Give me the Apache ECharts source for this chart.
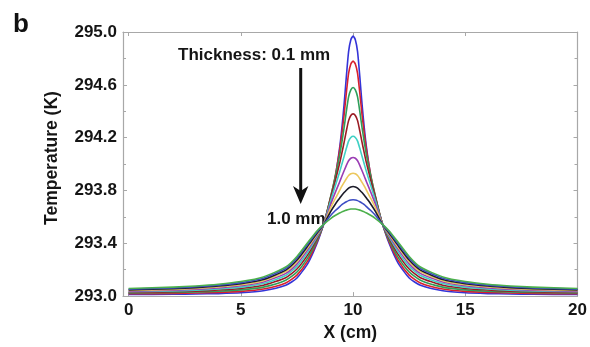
<!DOCTYPE html>
<html>
<head>
<meta charset="utf-8">
<script src="https://cdn.jsdelivr.net/npm/echarts@6/dist/echarts.min.js"></script>
<style>
html,body{margin:0;padding:0;background:#fff;}
#chart{width:590px;height:347px;}
</style>
</head>
<body>
<div id="chart"></div>
<script>
// Position along the strip (cm)
var xPositions = [0, 2, 3, 4, 5, 6, 7, 7.5, 8, 8.4, 8.7, 9, 9.2, 9.4, 9.5, 9.6, 9.7, 9.8, 9.9, 10, 10.1, 10.2, 10.3, 10.4, 10.5, 10.6, 10.8, 11, 11.3, 11.6, 12, 12.5, 13, 14, 15, 16, 17, 18, 20];

// Temperature (K) for each thickness
var temp01 = [293.013,293.014,293.016,293.019,293.025,293.040,293.082,293.137,293.252,293.402,293.552,293.732,293.892,294.122,294.272,294.452,294.662,294.852,294.942,294.970,294.942,294.852,294.662,294.452,294.272,294.122,293.892,293.732,293.552,293.402,293.252,293.137,293.082,293.040,293.025,293.019,293.016,293.014,293.013];
var temp02 = [293.018,293.020,293.023,293.028,293.036,293.054,293.100,293.159,293.273,293.414,293.551,293.749,293.904,294.103,294.228,294.373,294.538,294.687,294.758,294.780,294.758,294.687,294.538,294.373,294.228,294.103,293.904,293.749,293.551,293.414,293.273,293.159,293.100,293.054,293.036,293.028,293.023,293.020,293.018];
var temp03 = [293.023,293.027,293.031,293.037,293.047,293.068,293.120,293.182,293.295,293.426,293.550,293.753,293.896,294.064,294.165,294.275,294.399,294.509,294.562,294.580,294.562,294.509,294.399,294.275,294.165,294.064,293.896,293.753,293.550,293.426,293.295,293.182,293.120,293.068,293.047,293.037,293.031,293.027,293.023];
var temp04 = [293.028,293.033,293.038,293.046,293.058,293.082,293.139,293.205,293.318,293.439,293.549,293.743,293.869,294.005,294.083,294.164,294.251,294.329,294.368,294.380,294.368,294.329,294.251,294.164,294.083,294.005,293.869,293.743,293.549,293.439,293.318,293.205,293.139,293.082,293.058,293.046,293.038,293.033,293.028];
var temp05 = [293.033,293.039,293.045,293.054,293.068,293.095,293.156,293.225,293.337,293.450,293.548,293.723,293.831,293.939,293.999,294.058,294.119,294.174,294.201,294.210,294.201,294.174,294.119,294.058,293.999,293.939,293.831,293.723,293.548,293.450,293.337,293.225,293.156,293.095,293.068,293.054,293.045,293.039,293.033];
var temp06 = [293.038,293.045,293.052,293.062,293.078,293.107,293.172,293.244,293.356,293.460,293.547,293.694,293.782,293.864,293.908,293.949,293.990,294.025,294.044,294.050,294.044,294.025,293.990,293.949,293.908,293.864,293.782,293.694,293.547,293.460,293.356,293.244,293.172,293.107,293.078,293.062,293.052,293.045,293.038];
var temp07 = [293.043,293.051,293.058,293.069,293.086,293.117,293.185,293.260,293.371,293.469,293.546,293.667,293.736,293.800,293.832,293.861,293.889,293.913,293.926,293.930,293.926,293.913,293.889,293.861,293.832,293.800,293.736,293.667,293.546,293.469,293.371,293.260,293.185,293.117,293.086,293.069,293.058,293.051,293.043];
var temp08 = [293.047,293.056,293.064,293.076,293.094,293.126,293.197,293.273,293.384,293.478,293.545,293.640,293.694,293.741,293.764,293.784,293.802,293.818,293.827,293.830,293.827,293.818,293.802,293.784,293.764,293.741,293.694,293.640,293.545,293.478,293.384,293.273,293.197,293.126,293.094,293.076,293.064,293.056,293.047];
var temp09 = [293.053,293.062,293.071,293.083,293.102,293.136,293.209,293.288,293.398,293.487,293.545,293.610,293.646,293.677,293.692,293.704,293.714,293.723,293.728,293.730,293.728,293.723,293.714,293.704,293.692,293.677,293.646,293.610,293.545,293.487,293.398,293.288,293.209,293.136,293.102,293.083,293.071,293.062,293.053];
var temp10 = [293.058,293.068,293.077,293.090,293.110,293.145,293.220,293.300,293.410,293.495,293.545,293.587,293.610,293.629,293.638,293.645,293.651,293.656,293.659,293.660,293.659,293.656,293.651,293.645,293.638,293.629,293.610,293.587,293.545,293.495,293.410,293.300,293.220,293.145,293.110,293.090,293.077,293.068,293.058];

var thicknessNames = ['0.1 mm','0.2 mm','0.3 mm','0.4 mm','0.5 mm','0.6 mm','0.7 mm','0.8 mm','0.9 mm','1.0 mm'];
var seriesColors = ['#3434d8','#d8202e','#2e9e5a','#9a1c24','#3fd0c4','#9a3cb4','#ecc85e','#1c1c2a','#3c4cc4','#4cb04c'];
var xTickValues = [0, 5, 10, 15, 20];

var allTemps = [temp01,temp02,temp03,temp04,temp05,temp06,temp07,temp08,temp09,temp10];
var FONT = '"Liberation Sans", Arial, sans-serif';

var series = allTemps.map(function (arr, i) {
  return {
    name: thicknessNames[i],
    type: 'line',
    data: arr.map(function (v, k) { return [xPositions[k], v]; }),
    showSymbol: false,
    smooth: 0.2,
    lineStyle: { width: 1.6, color: seriesColors[i], join: 'round' },
    itemStyle: { color: seriesColors[i] },
    z: 2 + i,
    animation: false
  };
});

var axisGray = '#a8a8a8';
var labelStyle = { color: '#151515', fontSize: 17, fontWeight: 'bold', fontFamily: FONT };

var chart = echarts.init(document.getElementById('chart'), null, { renderer: 'canvas' });
chart.setOption({
  animation: false,
  backgroundColor: '#ffffff',
  grid: { left: 123, top: 32, right: 7.5, bottom: 50.5, containLabel: false },
  xAxis: [{
    type: 'value', min: -0.25, max: 20, position: 'bottom',
    axisLine: { show: true, onZero: false, lineStyle: { color: axisGray, width: 1.2 } },
    axisTick: { show: true, inside: true, length: 4, customValues: xTickValues, lineStyle: { color: axisGray } },
    axisLabel: Object.assign({ customValues: xTickValues, margin: 6 }, labelStyle),
    splitLine: { show: false },
    name: 'X (cm)', nameLocation: 'middle', nameGap: 25,
    nameTextStyle: { color: '#151515', fontSize: 17.5, fontWeight: 'bold', fontFamily: FONT }
  }, {
    type: 'value', min: -0.25, max: 20, position: 'top',
    axisLine: { show: true, onZero: false, lineStyle: { color: axisGray, width: 1.2 } },
    axisTick: { show: true, inside: true, length: 4, customValues: xTickValues, lineStyle: { color: axisGray } },
    axisLabel: { show: false },
    splitLine: { show: false }
  }],
  yAxis: [{
    type: 'value', min: 293, max: 295, interval: 0.4, position: 'left',
    axisLine: { show: true, onZero: false, lineStyle: { color: axisGray, width: 1.2 } },
    axisTick: { show: true, inside: true, length: 4, lineStyle: { color: axisGray } },
    minorTick: { show: true, splitNumber: 2, length: 3, lineStyle: { color: axisGray } },
    axisLabel: Object.assign({ margin: 6, formatter: function (v) { return v.toFixed(1); } }, labelStyle),
    splitLine: { show: false },
    name: 'Temperature (K)', nameLocation: 'middle', nameGap: 62, nameRotate: 90,
    nameTextStyle: { color: '#151515', fontSize: 17.5, fontWeight: 'bold', fontFamily: FONT, padding: [0, 0, 0, 12] }
  }, {
    type: 'value', min: 293, max: 295, interval: 0.4, position: 'right',
    axisLine: { show: true, onZero: false, lineStyle: { color: axisGray, width: 1.2 } },
    axisTick: { show: true, inside: true, length: 4, lineStyle: { color: axisGray } },
    minorTick: { show: true, splitNumber: 2, length: 3, lineStyle: { color: axisGray } },
    axisLabel: { show: false },
    splitLine: { show: false }
  }],
  series: series,
  graphic: [
    { type: 'text', x: 13, y: 25, style: { text: 'b', font: 'bold 26px ' + FONT, fill: '#111', align: 'left', verticalAlign: 'middle' } },
    { type: 'text', x: 178, y: 55, style: { text: 'Thickness: 0.1 mm', font: 'bold 17px ' + FONT, fill: '#151515', align: 'left', verticalAlign: 'middle' } },
    { type: 'text', x: 267, y: 219, z: 1, style: { text: '1.0 mm', font: 'bold 17px ' + FONT, fill: '#151515', align: 'left', verticalAlign: 'middle' } },
    { type: 'line', shape: { x1: 300.7, y1: 68, x2: 300.7, y2: 192 }, style: { stroke: '#111', lineWidth: 3 } },
    { type: 'polygon', shape: { points: [[300.7, 204], [293, 186], [300.7, 191], [308.4, 186]] }, style: { fill: '#111' } }
  ]
});
</script>
</body>
</html>
